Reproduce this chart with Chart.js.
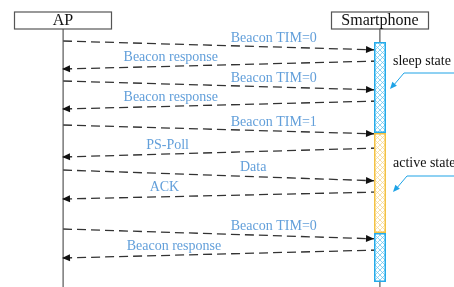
<!DOCTYPE html>
<html lang="en">
<head>
    <meta charset="UTF-8">
    <title>AP / Smartphone power save sequence</title>
    <script src="https://cdn.jsdelivr.net/npm/chart.js"></script>
    <style>
        html, body { margin: 0; padding: 0; background: #fff; }
        .chart-container { width: 454px; height: 287px; }
    </style>
</head>
<body>
    <div class="chart-container">
        <canvas id="seqChart"></canvas>
    </div>

    <script>
        // lifelines (category x axis)
        const actors = ['AP', 'Smartphone'];

        // messages: label, sender, receiver, send time, arrive time
        const msgLabels = ['Beacon TIM=0', 'Beacon response', 'Beacon TIM=0', 'Beacon response',
                           'Beacon TIM=1', 'PS-Poll', 'Data', 'ACK', 'Beacon TIM=0', 'Beacon response'];
        const msgFrom   = ['AP', 'Smartphone', 'AP', 'Smartphone', 'AP', 'Smartphone', 'AP', 'Smartphone', 'AP', 'Smartphone'];
        const msgTo     = ['Smartphone', 'AP', 'Smartphone', 'AP', 'Smartphone', 'AP', 'Smartphone', 'AP', 'Smartphone', 'AP'];
        const sendTime  = [41, 61, 81, 101, 125, 148, 170, 192, 229, 250];
        const arriveTime = [50, 69, 90, 109, 134, 157, 181, 199, 239, 258];

        // smartphone states
        const stateNames = ['sleep', 'active', 'sleep'];
        const stateStart = [42, 133, 233];
        const stateEnd   = [133, 233, 282];

        // where along the arrow each label sits (0 = sender, 1 = receiver)
        const labelAt = [0.665, 0.66, 0.665, 0.66, 0.665, 0.67, 0.6, 0.68, 0.665, 0.65];

        const headerBottom = 29;
        const timeEnd = 287;

        const labelColor = '#629fda';
        const calloutColor = '#1ea3e6';
        const stateColors = {
            sleep: { border: '#25abea', hatch: '#5cc4f2' },
            active: { border: '#f4c244', hatch: '#f7d684' }
        };

        // cross-hatch fill like the reference bar
        function hatch(ctx, color) {
            const c = document.createElement('canvas');
            c.width = 5; c.height = 5;
            const g = c.getContext('2d');
            g.fillStyle = '#fff';
            g.fillRect(0, 0, 5, 5);
            g.strokeStyle = color;
            g.lineWidth = 0.7;
            g.beginPath();
            g.moveTo(0, 0); g.lineTo(5, 5);
            g.moveTo(5, 0); g.lineTo(0, 5);
            g.stroke();
            return ctx.createPattern(c, 'repeat');
        }

        const datasets = [];
        actors.forEach(a => {
            datasets.push({
                data: [{ x: a, y: headerBottom }, { x: a, y: timeEnd }],
                borderColor: '#555',
                borderWidth: 1.4,
                pointRadius: 0
            });
        });
        msgLabels.forEach((m, i) => {
            datasets.push({
                data: [{ x: msgFrom[i], y: sendTime[i] }, { x: msgTo[i], y: arriveTime[i] }],
                borderColor: '#333',
                borderWidth: 1.3,
                borderDash: [9, 5],
                pointRadius: 0
            });
        });

        const seqPlugin = {
            id: 'seq',
            afterDatasetsDraw(chart) {
                const ctx = chart.ctx;
                const xs = chart.scales.x, ys = chart.scales.y;
                const barHalf = 6;
                const phoneX = xs.getPixelForValue(actors.indexOf('Smartphone'));
                ctx.save();

                // activation bar
                stateNames.forEach((s, i) => {
                    const y0 = ys.getPixelForValue(stateStart[i]);
                    const y1 = ys.getPixelForValue(stateEnd[i]);
                    ctx.fillStyle = hatch(ctx, stateColors[s].hatch);
                    ctx.fillRect(phoneX - barHalf, y0, barHalf * 2, y1 - y0);
                    ctx.strokeStyle = stateColors[s].border;
                    ctx.lineWidth = 1.5;
                    ctx.strokeRect(phoneX - barHalf + 0.75, y0 + 0.75, barHalf * 2 - 1.5, y1 - y0 - 1.5);
                });

                // arrowheads and labels
                msgLabels.forEach((m, i) => {
                    const x0 = xs.getPixelForValue(actors.indexOf(msgFrom[i]));
                    const x1 = xs.getPixelForValue(actors.indexOf(msgTo[i]));
                    const y0 = ys.getPixelForValue(sendTime[i]);
                    const y1 = ys.getPixelForValue(arriveTime[i]);
                    const dx = x1 - x0, dy = y1 - y0;
                    const len = Math.hypot(dx, dy);
                    const ux = dx / len, uy = dy / len;
                    const cut = msgTo[i] === 'Smartphone' ? barHalf : -1;
                    const tx = x1 - ux * cut, ty = y1 - uy * cut;
                    const L = 8, W = 3.5;
                    ctx.fillStyle = '#111';
                    ctx.beginPath();
                    ctx.moveTo(tx, ty);
                    ctx.lineTo(tx - ux * L - uy * W, ty - uy * L + ux * W);
                    ctx.lineTo(tx - ux * L + uy * W, ty - uy * L - ux * W);
                    ctx.closePath();
                    ctx.fill();

                    const lx = x0 + dx * labelAt[i];
                    const ly = y0 + dy * labelAt[i];
                    ctx.fillStyle = labelColor;
                    ctx.font = '14px "Liberation Serif", "Times New Roman", serif';
                    ctx.textAlign = 'center';
                    ctx.textBaseline = 'middle';
                    ctx.fillText(m, lx, ly - 9);
                });

                // header boxes
                actors.forEach(a => {
                    const x = xs.getPixelForValue(actors.indexOf(a));
                    ctx.fillStyle = '#fff';
                    ctx.fillRect(x - 48.5, 12, 97, 17);
                    ctx.strokeStyle = '#555';
                    ctx.lineWidth = 1.2;
                    ctx.strokeRect(x - 48.5, 12, 97, 17);
                    ctx.fillStyle = '#111';
                    ctx.font = '16px "Liberation Serif", "Times New Roman", serif';
                    ctx.textAlign = 'center';
                    ctx.textBaseline = 'middle';
                    ctx.fillText(a, x, 21);
                });

                // state callouts
                const callouts = [
                    { text: 'sleep state', t: 61, from: [454, 73], knee: [404, 73], tip: [390, 89] },
                    { text: 'active state', t: 163, from: [454, 176], knee: [407, 176], tip: [393, 192] }
                ];
                callouts.forEach(c => {
                    ctx.fillStyle = '#111';
                    ctx.font = '14px "Liberation Serif", "Times New Roman", serif';
                    ctx.textAlign = 'left';
                    ctx.textBaseline = 'middle';
                    ctx.fillText(c.text, phoneX + 13, ys.getPixelForValue(c.t));
                    ctx.strokeStyle = calloutColor;
                    ctx.lineWidth = 1;
                    ctx.beginPath();
                    ctx.moveTo(c.from[0], c.from[1]);
                    ctx.lineTo(c.knee[0], c.knee[1]);
                    ctx.lineTo(c.tip[0] + 3, c.tip[1] - 3);
                    ctx.stroke();
                    const ux = c.tip[0] - c.knee[0], uy = c.tip[1] - c.knee[1];
                    const l = Math.hypot(ux, uy);
                    const vx = ux / l, vy = uy / l;
                    ctx.fillStyle = calloutColor;
                    ctx.beginPath();
                    ctx.moveTo(c.tip[0], c.tip[1]);
                    ctx.lineTo(c.tip[0] - vx * 7 - vy * 3, c.tip[1] - vy * 7 + vx * 3);
                    ctx.lineTo(c.tip[0] - vx * 7 + vy * 3, c.tip[1] - vy * 7 - vx * 3);
                    ctx.closePath();
                    ctx.fill();
                });

                ctx.restore();
            }
        };

        new Chart(document.getElementById('seqChart'), {
            type: 'line',
            data: { labels: actors, datasets: datasets },
            options: {
                responsive: true,
                maintainAspectRatio: false,
                animation: false,
                layout: { padding: { left: 63, right: 74, top: 0, bottom: 0 } },
                plugins: { legend: { display: false }, tooltip: { enabled: false } },
                scales: {
                    x: { type: 'category', offset: false, display: false },
                    y: { min: 0, max: timeEnd, reverse: true, display: false }
                }
            },
            plugins: [seqPlugin]
        });
    </script>
</body>
</html>
